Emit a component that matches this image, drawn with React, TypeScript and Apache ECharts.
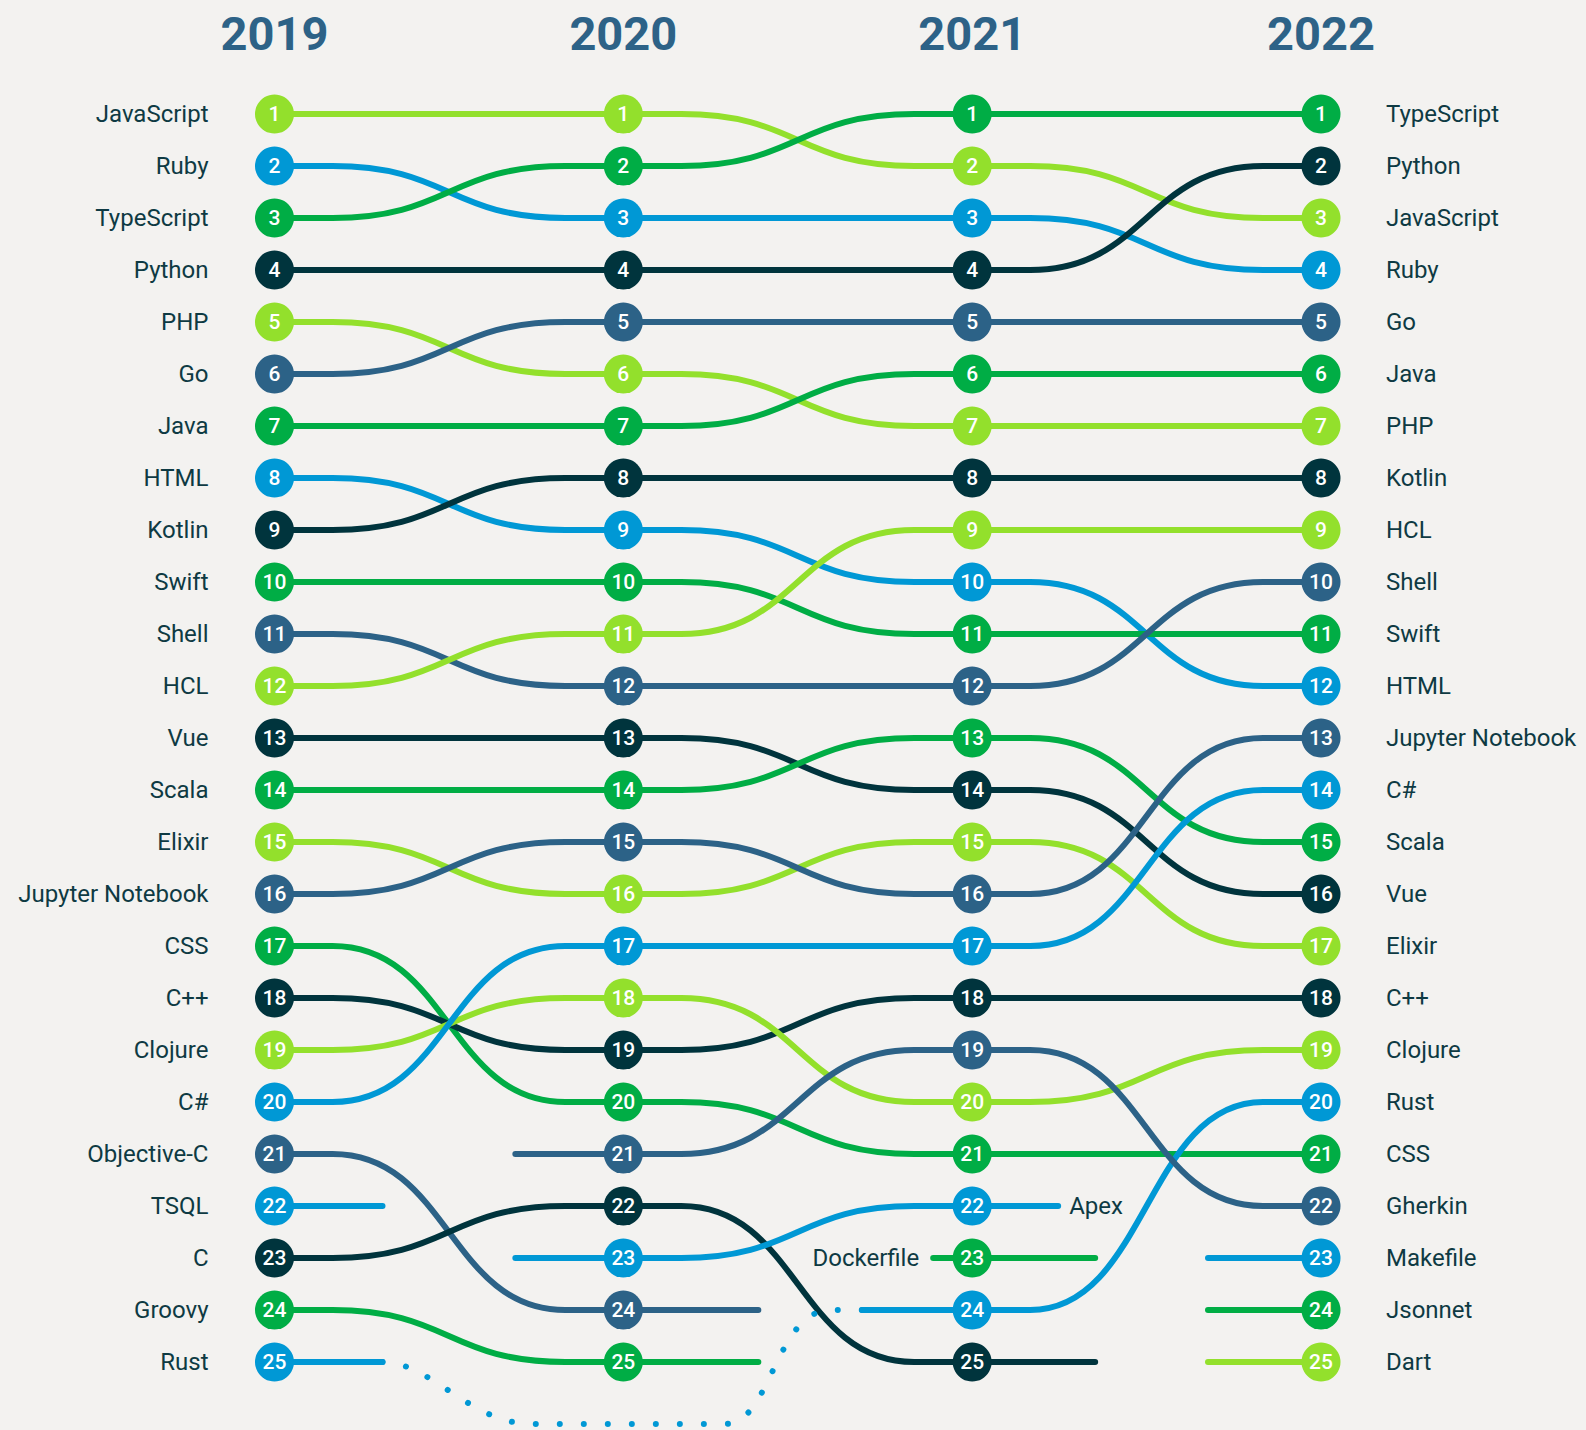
import React, { useEffect, useRef } from 'react';
import * as echarts from 'echarts';

// ---------- DATA ----------
const years = ['2019', '2020', '2021', '2022'];
const languages = [
  'JavaScript', 'Ruby', 'TypeScript', 'Python', 'PHP', 'Go', 'Java', 'HTML', 'Kotlin', 'Swift',
  'Shell', 'HCL', 'Vue', 'Scala', 'Elixir', 'Jupyter Notebook', 'CSS', 'C++', 'Clojure', 'C#',
  'Objective-C', 'TSQL', 'C', 'Groovy', 'Rust', 'Gherkin', 'Apex', 'Dockerfile', 'Makefile', 'Jsonnet', 'Dart',
];
const rank2019 = [1, 2, 3, 4, 5, 6, 7, 8, 9, 10, 11, 12, 13, 14, 15, 16, 17, 18, 19, 20, 21, 22, 23, 24, 25, null, null, null, null, null, null];
const rank2020 = [1, 3, 2, 4, 6, 5, 7, 9, 8, 10, 12, 11, 13, 14, 16, 15, 20, 19, 18, 17, 24, null, 22, 25, null, 21, 23, null, null, null, null];
const rank2021 = [2, 3, 1, 4, 7, 5, 6, 10, 8, 11, 12, 9, 14, 13, 15, 16, 21, 18, 20, 17, null, null, 25, null, 24, 19, 22, 23, null, null, null];
const rank2022 = [3, 4, 1, 2, 7, 5, 6, 12, 8, 11, 10, 9, 16, 15, 17, 13, 21, 18, 19, 14, null, null, null, null, 20, 22, null, null, 23, 24, 25];
const colorGroup = [
  'lime', 'blue', 'green', 'dark', 'lime', 'slate', 'green', 'blue', 'dark', 'green',
  'slate', 'lime', 'dark', 'green', 'lime', 'slate', 'green', 'dark', 'lime', 'blue',
  'slate', 'blue', 'dark', 'green', 'blue', 'slate', 'blue', 'green', 'blue', 'green', 'lime',
];
const rankTable = [rank2019, rank2020, rank2021, rank2022];

// ---------- STYLE / LAYOUT ----------
const palette: Record<string, string> = {
  lime: '#93e02c',
  green: '#00ad45',
  blue: '#0098d5',
  dark: '#00343d',
  slate: '#2c6287',
};
const TEXT = '#0e3a43';
const YEAR_COLOR = '#2d6287';
const BG = '#f3f2f0';
const FONT = 'Roboto, "Noto Sans", sans-serif';
const FLAT = 58;
const STUB = 108;
const stubLeft: Record<string, number> = { Dockerfile: 39, Rust: 110, Makefile: 113, Jsonnet: 113, Dart: 113 };
const stubRight: Record<string, number> = { 'Objective-C': 135, Groovy: 135, C: 123, Apex: 86, Dockerfile: 123 };
const inlineLabels: Record<string, 'left' | 'right'> = { Apex: 'right', Dockerfile: 'left' };
// dotted bridge for Rust (2019 -> 2021), waypoints in [year index, rank] units
const rustBridge = {
  lang: 'Rust',
  from: 0,
  to: 2,
  via: [
    ['C', [0.448, 25], [0.563, 26.19], [0.735, 26.19]],
    ['L', [1.294, 26.19]],
    ['C', [1.423, 26.19], [1.437, 24], [1.595, 24]],
  ] as any[],
};

const W = 1586;
const H = 1430;
const X0 = 274.5;
const X3 = 1321;
const Y1 = 114;
const Y25 = 1362;

function nameAt(ranks: (number | null)[], r: number) {
  const i = ranks.indexOf(r);
  return i >= 0 ? languages[i] : '';
}

export default function App() {
  const ref = useRef<HTMLDivElement>(null);

  useEffect(() => {
    if (!ref.current) return;
    const chart = echarts.init(ref.current, null, { renderer: 'svg' });

    const scatterData: any[] = [];
    languages.forEach((lang, i) => {
      rankTable.forEach((ranks, k) => {
        const r = ranks[i];
        if (r != null) {
          scatterData.push({
            value: [k, r],
            itemStyle: { color: palette[colorGroup[i]], opacity: 1 },
          });
        }
      });
    });

    const renderItem = (params: any, api: any) => {
      const i = api.value(2) as number;
      const lang = languages[i];
      const color = palette[colorGroup[i]];
      const pts = rankTable.map((rk) => rk[i]);
      let d = '';
      const children: any[] = [];
      for (let k = 0; k < 4; k++) {
        const r = pts[k];
        if (r == null) continue;
        const [x, y] = api.coord([k, r]);
        if (k === 0 || pts[k - 1] == null) {
          if (k > 0) {
            const L = stubLeft[lang] ?? STUB;
            d += `M${x - L},${y} L${x},${y} `;
            if (inlineLabels[lang] === 'left') {
              children.push({
                type: 'text',
                style: {
                  text: lang, x: x - L - 14, y,
                  fill: TEXT, fontSize: 24, fontFamily: FONT,
                  align: 'right', verticalAlign: 'middle',
                  textAlign: 'right', textVerticalAlign: 'middle',
                },
              });
            }
          } else {
            d += `M${x},${y} `;
          }
        }
        if (k < 3 && pts[k + 1] != null) {
          const [x1, y1] = api.coord([k + 1, pts[k + 1]]);
          const a = x + FLAT;
          const b = x1 - FLAT;
          const m = (a + b) / 2;
          d += `L${a},${y} C${m},${y} ${m},${y1} ${b},${y1} L${x1},${y1} `;
        } else if (k < 3) {
          const R = stubRight[lang] ?? STUB;
          d += `L${x + R},${y} `;
          if (inlineLabels[lang] === 'right') {
            children.push({
              type: 'text',
              style: {
                text: lang, x: x + R + 11, y,
                fill: TEXT, fontSize: 24, fontFamily: FONT,
                align: 'left', verticalAlign: 'middle',
                textAlign: 'left', textVerticalAlign: 'middle',
              },
            });
          }
        }
      }
      children.unshift({
        type: 'path',
        shape: { pathData: d },
        style: { stroke: color, lineWidth: 6, fill: 'none', lineCap: 'round', lineJoin: 'round' },
      });
      if (lang === rustBridge.lang) {
        const [sx, sy] = api.coord([rustBridge.from, pts[rustBridge.from]]);
        const [ex, ey] = api.coord([rustBridge.to, pts[rustBridge.to]]);
        let g = `M${sx + (stubRight[lang] ?? STUB)},${sy} `;
        rustBridge.via.forEach((cmd: any[]) => {
          const p = cmd.slice(1).map((q: number[]) => api.coord(q));
          g += cmd[0] + p.map((c: number[]) => `${c[0]},${c[1]}`).join(' ') + ' ';
        });
        g += `L${ex - (stubLeft[lang] ?? STUB)},${ey}`;
        children.unshift({
          type: 'path',
          shape: { pathData: g },
          style: { stroke: color, lineWidth: 6, fill: 'none', lineCap: 'round', lineDash: [0.01, 24], lineJoin: 'round' },
        });
      }
      return { type: 'group', children };
    };

    const option: any = {
      animation: false,
      backgroundColor: BG,
      grid: { left: X0, right: W - X3, top: Y1, bottom: H - Y25, containLabel: false },
      xAxis: {
        type: 'value', min: 0, max: 3, interval: 1, position: 'top',
        axisLine: { show: false }, axisTick: { show: false }, splitLine: { show: false },
        axisLabel: {
          formatter: (v: number) => years[v] ?? '',
          fontSize: 47, fontWeight: 'bold', color: YEAR_COLOR, fontFamily: FONT,
          margin: 81, verticalAlign: 'middle',
        },
      },
      yAxis: [
        {
          type: 'value', min: 1, max: 25, interval: 1, inverse: true, position: 'left',
          axisLine: { show: false }, axisTick: { show: false }, splitLine: { show: false },
          axisLabel: {
            formatter: (v: number) => nameAt(rank2019, v),
            fontSize: 24, color: TEXT, fontFamily: FONT, margin: 66,
          },
        },
        {
          type: 'value', min: 1, max: 25, interval: 1, inverse: true, position: 'right',
          axisLine: { show: false }, axisTick: { show: false }, splitLine: { show: false },
          axisLabel: {
            formatter: (v: number) => nameAt(rank2022, v),
            fontSize: 24, color: TEXT, fontFamily: FONT, margin: 65,
          },
        },
      ],
      series: [
        {
          type: 'custom',
          z: 1,
          clip: false,
          renderItem,
          encode: { x: 0, y: 1 },
          data: languages.map((_, i) => [0, 1, i]),
          silent: true,
        },
        {
          type: 'scatter',
          z: 3,
          symbol: 'circle',
          symbolSize: 39,
          data: scatterData,
          itemStyle: { opacity: 1 },
          label: {
            show: true,
            position: 'inside',
            formatter: (p: any) => String(p.value[1]),
            color: '#ffffff',
            fontSize: 21,
            fontWeight: 500,
            fontFamily: FONT,
          },
          silent: true,
        },
      ],
    };

    chart.setOption(option);
    return () => chart.dispose();
  }, []);

  return (
    <div
      ref={ref}
      style={{ position: 'fixed', left: 0, top: 0, width: W, height: H, background: BG }}
    />
  );
}
